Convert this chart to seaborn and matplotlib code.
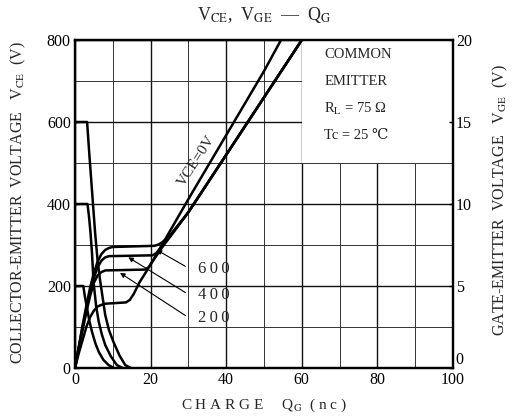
import matplotlib
matplotlib.use("Agg")
import matplotlib.pyplot as plt
import seaborn as sns
import pandas as pd
from matplotlib.patches import Rectangle
from matplotlib.ticker import MultipleLocator

# ---------------- data ----------------
# Collector-emitter voltage curves (left axis, V) vs gate charge (nC)
q_vce600 = [0, 3.2, 3.8, 4.6, 5.3, 6.0, 6.7, 8.0, 9.0, 10.2, 11.8, 13.3, 14.8]
vce600 = [600, 600, 520, 420, 332, 260, 210, 129, 92, 63, 30, 7, 0]
q_vce400 = [0, 3.3, 3.7, 4.1, 4.5, 4.9, 5.6, 6.3, 7.1, 8.0, 9.5, 11.1, 12.6]
vce400 = [400, 400, 370, 330, 280, 210, 150, 112, 82, 56, 28, 7, 0]
q_vce200 = [0, 2.2, 2.6, 3.2, 3.8, 4.5, 5.4, 6.3, 7.5, 8.9, 10.3]
vce200 = [200, 200, 175, 145, 115, 88, 60, 39, 20, 7, 0]

# Gate-emitter voltage curves (right axis, V) vs gate charge (nC)
q_vge0 = [0, 1, 2, 3, 4, 5, 6, 7, 8, 13.5, 14.5, 15.5, 17, 20, 25, 30, 40, 50, 54.5]
vge0 = [0, 0.9, 1.7, 2.5, 3.1, 3.5, 3.75, 3.85, 3.92, 4.0, 4.15, 4.5, 5.2, 6.3, 8.3, 10.3, 14.2, 18.1, 20]
q_vge200 = [0, 1, 2, 3, 4, 5, 6, 7, 8, 18.5, 19.5, 20.5, 22, 23.5, 25, 30, 40, 50, 60]
vge200 = [0, 1.2, 2.3, 3.4, 4.4, 5.2, 5.65, 5.85, 5.95, 6.0, 6.15, 6.5, 7.0, 7.5, 7.95, 9.5, 13.0, 16.5, 20]
q_vge400 = [0, 1, 2, 3, 4, 5, 6, 7, 8, 9, 20.5, 21.5, 22.5, 23.5, 25, 30, 40, 50, 60]
vge400 = [0, 1.25, 2.5, 3.6, 4.6, 5.5, 6.15, 6.55, 6.75, 6.82, 6.87, 7.0, 7.3, 7.6, 8.0, 9.5, 13.0, 16.5, 20]
q_vge600 = [0, 1, 2, 3, 4, 5, 6, 7, 8, 9, 10, 21, 22, 23, 24, 25, 30, 40, 50, 60]
vge600 = [0, 1.3, 2.6, 3.8, 4.9, 5.8, 6.5, 6.95, 7.2, 7.32, 7.38, 7.45, 7.52, 7.65, 7.85, 8.05, 9.5, 13.0, 16.5, 20]

vce_levels = ["600", "400", "200"]
vce_ticks = [0, 200, 400, 600, 800]
vge_ticks = [0, 5, 10, 15, 20]
q_ticks = [0, 20, 40, 60, 80, 100]

vce_df = pd.concat([
    pd.DataFrame({"q": q_vce600, "v": vce600, "curve": "600"}),
    pd.DataFrame({"q": q_vce400, "v": vce400, "curve": "400"}),
    pd.DataFrame({"q": q_vce200, "v": vce200, "curve": "200"}),
], ignore_index=True)
vge_df = pd.concat([
    pd.DataFrame({"q": q_vge0, "v": vge0, "curve": "0"}),
    pd.DataFrame({"q": q_vge200, "v": vge200, "curve": "200"}),
    pd.DataFrame({"q": q_vge400, "v": vge400, "curve": "400"}),
    pd.DataFrame({"q": q_vge600, "v": vge600, "curve": "600"}),
], ignore_index=True)

# ---------------- style ----------------
sns.set_theme(style="white")
plt.rcParams["font.family"] = ["Liberation Serif", "DejaVu Serif"]
plt.rcParams["mathtext.fontset"] = "stix"

fig = plt.figure(figsize=(5.15, 4.16), dpi=100)
ax = fig.add_axes([75 / 515, 1 - 368 / 416, (453 - 75) / 515, (368 - 40) / 416])
ax2 = ax.twinx()

ax.set_xlim(0, 100)
ax.set_ylim(0, 800)
ax2.set_ylim(0, 20)

ax.xaxis.set_minor_locator(MultipleLocator(10))
ax.yaxis.set_minor_locator(MultipleLocator(100))
ax.set_xticks(q_ticks)
ax.set_yticks(vce_ticks)
ax2.set_yticks(vge_ticks)

ax.set_axisbelow(True)
ax.grid(which="major", color="#111111", lw=1.0)
ax.grid(which="minor", color="#333333", lw=0.7)
ax2.grid(False)

# blank area for the condition text
ax.add_patch(Rectangle((60, 500), 40, 300, facecolor="white", edgecolor="none", zorder=1.5))

for a in (ax, ax2):
    for s in a.spines.values():
        s.set_color("black")
        s.set_linewidth(1.6)
ax.tick_params(axis="both", which="major", direction="in", length=3, width=1, labelsize=11.5,
               colors="black", pad=3)
ax.tick_params(axis="both", which="minor", length=0)
ax2.tick_params(axis="y", direction="in", length=3, width=1, labelsize=11.5, colors="black", pad=2)

sns.lineplot(data=vce_df, x="q", y="v", units="curve", estimator=None, sort=False,
             color="black", lw=1.8, ax=ax, legend=False)
sns.lineplot(data=vge_df, x="q", y="v", units="curve", estimator=None, sort=False,
             color="black", lw=1.8, ax=ax2, legend=False)

ax.set_xlabel("")
ax.set_ylabel("")
ax2.set_ylabel("")

# lift the right-axis "0" label so it clears the "100" below it
ax2.get_yticklabels()[0].set_va("bottom")

# ---------------- texts ----------------
fig.text(264 / 515, 1 - 15 / 416, r"V$_{\rm CE}$,  V$_{\rm GE}$  —  Q$_{\rm G}$",
         ha="center", va="center", fontsize=13)
fig.text(264 / 515, 1 - 405 / 416, r"C H A R G E     Q$_{\rm G}$  ( n c )",
         ha="center", va="center", fontsize=11)
fig.text(18 / 515, 1 - 203 / 416, r"COLLECTOR-EMITTER  VOLTAGE   V$_{\rm CE}$  (V)",
         ha="center", va="center", rotation=90, fontsize=11.5)
fig.text(500 / 515, 1 - 200 / 416, r"GATE-EMITTER  VOLTAGE   V$_{\rm GE}$  (V)",
         ha="center", va="center", rotation=90, fontsize=11.5)

cond = ["COMMON", "EMITTER", r"R$_{\rm L}$ = 75 Ω", "Tc = 25 ℃"]
for i, t in enumerate(cond):
    ax.text(66, 765 - i * 66, t, ha="left", va="center", fontsize=10.5, zorder=5)

ax2.text(32.3, 12.6, "VCE=0V", rotation=57, ha="center", va="center", fontsize=11, zorder=5)

label_pos = [(32.5, 6.05), (32.5, 4.45), (32.5, 3.05)]
arrow_tips = [(21.6, 7.2), (14.1, 6.75), (11.9, 5.8)]
for lab, (tx, ty), (hx, hy) in zip(vce_levels, label_pos, arrow_tips):
    ax2.text(tx, ty, "\u2009".join(lab), ha="left", va="center", fontsize=12, zorder=5)
    ax2.annotate("", xy=(hx, hy), xytext=(tx - 3.3, ty + 0.15),
                 arrowprops=dict(arrowstyle="-|>", color="black", lw=0.8,
                                 mutation_scale=7, shrinkA=0, shrinkB=0), zorder=5)

fig.savefig("out.png", dpi=100)
